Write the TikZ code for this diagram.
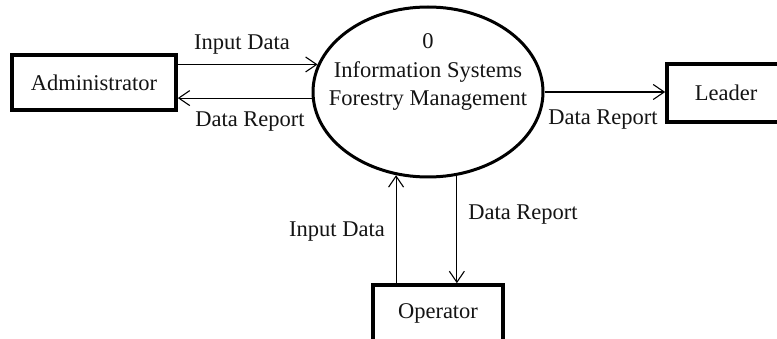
\documentclass[tikz,border=0pt]{standalone}
\usepackage{fontspec}
\setmainfont{Liberation Serif}
\usetikzlibrary{shapes.geometric,arrows.meta}
\definecolor{ink}{gray}{0.08}
\tikzset{
  entity/.style={draw=black, line width=3.6pt, rectangle, inner sep=0pt, text=ink, font=\fontsize{22.5}{28.5}\selectfont},
  procshape/.style={draw=black, line width=3pt, ellipse, inner sep=0pt},
  flow/.style={draw=black, line width=1.1pt, -{Straight Barb[length=11pt,width=15pt,line width=1.1pt]}},
  lbl/.style={text=ink, inner sep=0pt, font=\fontsize{22.5}{28.5}\selectfont},
}
\begin{document}
\begin{tikzpicture}[x=1pt,y=-1pt]
\useasboundingbox (0,0) rectangle (777,339);
\clip (0,0) rectangle (777,339);
\fill[white] (0,0) rectangle (777,339);
\node[entity, minimum width=164pt, minimum height=55pt] (adm) at (94,82.5) {Administrator};
\node[procshape, minimum width=230pt, minimum height=170pt] (proc) at (428,92) {};
\node[lbl, align=center] (ptext) at (428,72) {0\\Information Systems\\Forestry Management};
\node[entity, minimum width=118pt, minimum height=58pt] (leader) at (726,93) {Leader};
\node[entity, minimum width=130pt, minimum height=57pt] (oper) at (438,313.5) {Operator};
% flows
\draw[flow] (adm.east |- proc.166) -- (proc.166);
\draw[flow] (proc.183) -- (adm.east |- proc.183);
\draw[flow] (proc.east) -- (leader.west |- proc.east);
\draw[flow] (proc.249 |- oper.north) -- (proc.249);
\draw[flow] (proc.289) -- (proc.289 |- oper.north);
% labels
\node[lbl] (l1) at (242,45) {Input Data};
\node[lbl] (l2) at (250,122) {Data Report};
\node[lbl] (l3) at (603,120) {Data Report};
\node[lbl] (l4) at (523,215) {Data Report};
\node[lbl] (l5) at (337,232) {Input Data};
\end{tikzpicture}
\end{document}
